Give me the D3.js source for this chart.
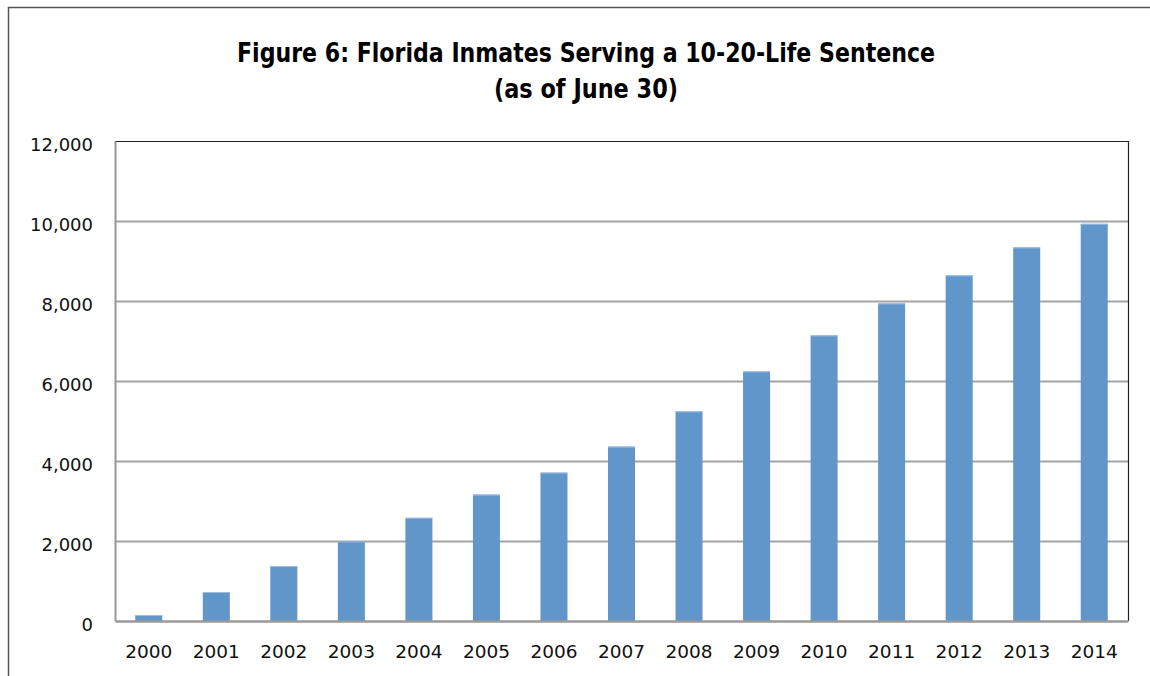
<!DOCTYPE html>
<html><head><meta charset="utf-8">
<script src="https://cdn.jsdelivr.net/npm/d3@7"></script>
<style>html,body{margin:0;padding:0;background:#fff;}svg{display:block;}</style>
</head><body>
<svg id="chart" width="1150" height="676"></svg>
<script>
const titleLines = ["Figure 6: Florida Inmates Serving a 10-20-Life Sentence", "(as of June 30)"];
const years = ["2000","2001","2002","2003","2004","2005","2006","2007","2008","2009","2010","2011","2012","2013","2014"];
const inmates = [150, 725, 1375, 1990, 2580, 3160, 3710, 4360, 5240, 6240, 7140, 7940, 8640, 9340, 9930];
const yTicks = [0, 2000, 4000, 6000, 8000, 10000, 12000];

const svg = d3.select("#chart");
const W = 1150, H = 676;
const plot = {left: 115, top: 141, right: 1128, bottom: 621};

// outer frame
svg.append("rect").attr("x", 8.5).attr("y", 7.5).attr("width", W + 20).attr("height", H + 20)
  .attr("fill", "none").attr("stroke", "#555").attr("stroke-width", 1.5);

const x = d3.scaleBand().domain(years).range([plot.left, plot.right]).paddingInner(0.6).paddingOuter(0.3);
const y = d3.scaleLinear().domain([0, 12000]).range([plot.bottom, plot.top]);

// title
const titleWidths = [698, 184];
svg.append("g").selectAll("text").data(titleLines).join("text")
  .attr("x", 586).attr("y", (d, i) => 62 + i * 36)
  .attr("text-anchor", "middle")
  .attr("font-family", "'Liberation Sans Narrow', 'DejaVu Sans Condensed', 'Liberation Sans', sans-serif")
  .attr("font-weight", "bold").attr("font-size", 26.5).attr("fill", "#000")
  .attr("textLength", (d, i) => titleWidths[i]).attr("lengthAdjust", "spacingAndGlyphs")
  .text(d => d);

// gridlines
svg.append("g").selectAll("line").data(yTicks.filter(t => t > 0 && t < 12000)).join("line")
  .attr("x1", plot.left).attr("x2", plot.right)
  .attr("y1", d => Math.round(y(d)) + 0.5).attr("y2", d => Math.round(y(d)) + 0.5)
  .attr("stroke", "#a3a3a3").attr("stroke-width", 2);

// bars
svg.append("g").selectAll("rect").data(years).join("rect")
  .attr("x", d => x(d)).attr("width", x.bandwidth())
  .attr("y", (d, i) => y(inmates[i])).attr("height", (d, i) => plot.bottom - y(inmates[i]))
  .attr("fill", "#6196ca");
svg.append("g").selectAll("line").data(years).join("line")
  .attr("x1", d => x(d)).attr("x2", d => x(d) + x.bandwidth())
  .attr("y1", (d, i) => y(inmates[i]) + 0.5).attr("y2", (d, i) => y(inmates[i]) + 0.5)
  .attr("stroke", "#9dbde0").attr("stroke-width", 1);

// plot border: top & right dark, left & bottom gray
svg.append("line").attr("x1", plot.left).attr("x2", plot.right + 0.5).attr("y1", plot.top + 0.5).attr("y2", plot.top + 0.5)
  .attr("stroke", "#222").attr("stroke-width", 1.2);
svg.append("line").attr("x1", plot.right + 0.5).attr("x2", plot.right + 0.5).attr("y1", plot.top).attr("y2", plot.bottom)
  .attr("stroke", "#222").attr("stroke-width", 1.2);

// axes via d3
const yAxis = d3.axisLeft(y).tickValues(yTicks).tickSize(0).tickPadding(22).tickFormat(d3.format(","));
const gy = svg.append("g").attr("transform", `translate(${plot.left},0)`).call(yAxis);
gy.select(".domain").attr("stroke", "#999").attr("stroke-width", 2);
gy.selectAll("text").attr("font-family", "'DejaVu Sans', sans-serif").attr("font-size", 18)
  .attr("fill", "#111").attr("dy", "0.5em");

const xAxis = d3.axisBottom(x).tickSize(0).tickPadding(24);
const gx = svg.append("g").attr("transform", `translate(0,${plot.bottom})`).call(xAxis);
gx.select(".domain").attr("stroke", "#999").attr("stroke-width", 2.5);
gx.selectAll("text").attr("font-family", "'DejaVu Sans', sans-serif").attr("font-size", 18.5)
  .attr("fill", "#111");
</script>
</body></html>
